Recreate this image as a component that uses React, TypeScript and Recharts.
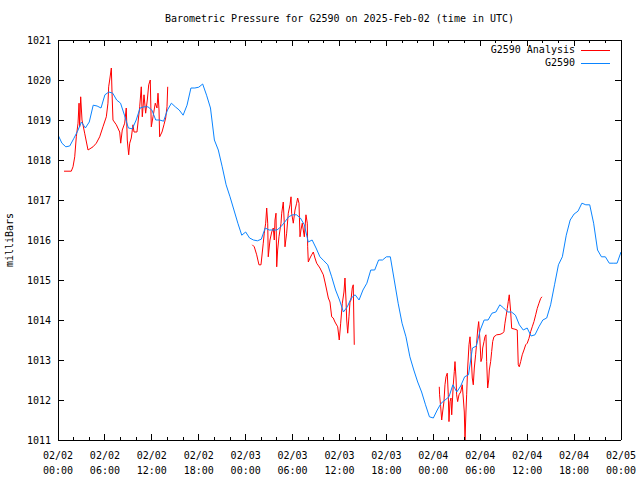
import React from 'react';
import { LineChart, Line, XAxis, YAxis } from 'recharts';

// G2590 station readings, one every half hour from 02/02 00:00 (UTC)
const stationStepHours = 0.5;
const stationValues = [
  1018.63, 1018.42, 1018.33, 1018.35, 1018.53, 1018.72, 1018.95, 1018.8, 1018.95, 1019.37, 1019.35, 1019.3,
  1019.63, 1019.7, 1019.67, 1019.5, 1019.42, 1019.12, 1018.8, 1018.78, 1019.0, 1019.3, 1019.33, 1019.33,
  1019.25, 1019.0, 1019.0, 1018.97, 1019.25, 1019.42, 1019.33, 1019.25, 1019.12, 1019.37, 1019.8, 1019.8,
  1019.82, 1019.9, 1019.62, 1019.3, 1018.5, 1018.25, 1017.83, 1017.38, 1017.08, 1016.75, 1016.42, 1016.12,
  1016.2, 1016.05, 1016.0, 1015.98, 1016.02, 1016.3, 1016.25, 1016.25, 1016.25, 1016.33, 1016.45, 1016.58,
  1016.63, 1016.63, 1016.55, 1016.38, 1015.95, 1016.0, 1015.8, 1015.58, 1015.48, 1015.38, 1015.08, 1014.75,
  1014.5, 1014.2, 1014.33, 1014.55, 1014.63, 1014.5, 1014.75, 1014.92, 1015.25, 1015.25, 1015.5, 1015.5,
  1015.58, 1015.58, 1015.0, 1014.42, 1013.92, 1013.58, 1013.08, 1012.75, 1012.45, 1012.2, 1011.88, 1011.58,
  1011.55, 1011.75, 1011.92, 1012.0, 1012.08, 1012.38, 1012.2, 1012.35, 1012.58, 1012.63, 1013.3, 1013.35,
  1013.75, 1014.0, 1014.0, 1014.17, 1014.2, 1014.38, 1014.3, 1014.2, 1014.2, 1014.12, 1013.88, 1013.75,
  1013.8, 1013.6, 1013.63, 1013.83, 1014.0, 1014.05, 1014.38, 1014.88, 1015.38, 1015.58, 1016.12, 1016.5,
  1016.65, 1016.72, 1016.92, 1016.88, 1016.88, 1016.42, 1015.75, 1015.58, 1015.58, 1015.42, 1015.42, 1015.42,
  1015.7,
];

// G2590 Analysis, [hours since 02/02 00:00, mBar], three runs with gaps between
const analysisRun1 = [
  [0.77, 1017.72], [1.7, 1017.72], [1.92, 1017.83], [2.14, 1018.08], [2.34, 1018.58], [2.56, 1018.92],
  [2.69, 1019.42], [2.77, 1018.83], [2.9, 1019.58], [3.07, 1019.0], [3.41, 1018.67], [3.84, 1018.25],
  [4.48, 1018.33], [4.9, 1018.42], [5.33, 1018.58], [5.75, 1018.83], [6.18, 1019.08], [6.39, 1019.42],
  [6.48, 1019.83], [6.61, 1020.0], [6.82, 1020.3], [6.91, 1019.67], [7.03, 1019.0], [7.46, 1018.88],
  [7.89, 1018.7], [8.02, 1018.42], [8.22, 1018.75], [8.53, 1018.92], [8.73, 1019.3], [8.86, 1018.5],
  [9.04, 1018.13], [9.17, 1018.42], [9.37, 1018.55], [9.59, 1018.88], [9.72, 1018.7], [10.1, 1018.7],
  [10.45, 1019.33], [10.65, 1019.83], [10.78, 1019.08], [11.0, 1019.63], [11.21, 1019.17], [11.42, 1019.5],
  [11.6, 1019.88], [11.8, 1020.0], [11.93, 1018.83], [12.15, 1019.08], [12.44, 1019.42], [12.66, 1019.3],
  [12.79, 1019.67], [12.92, 1019.25], [13.0, 1018.58], [13.3, 1018.7], [13.55, 1018.88], [13.77, 1019.05],
  [13.94, 1019.33], [14.03, 1019.83],
];
const analysisRun2 = [
  [24.85, 1015.88], [25.1, 1015.83], [25.41, 1015.63], [25.7, 1015.38], [25.96, 1015.38], [26.25, 1015.92],
  [26.38, 1016.17], [26.56, 1016.42], [26.69, 1016.8], [26.82, 1016.42], [26.89, 1015.58], [27.11, 1016.0],
  [27.33, 1016.2], [27.53, 1016.3], [27.66, 1016.0], [27.75, 1016.5], [27.88, 1016.67], [27.97, 1015.33],
  [28.09, 1015.75], [28.26, 1016.08], [28.52, 1016.42], [28.61, 1016.67], [28.81, 1016.95], [28.94, 1016.42],
  [29.03, 1015.83], [29.24, 1016.17], [29.45, 1016.67], [29.67, 1016.88], [29.8, 1017.08], [29.88, 1016.67],
  [30.09, 1016.42], [30.31, 1016.75], [30.52, 1016.92], [30.65, 1017.05], [30.82, 1016.92], [30.95, 1016.08],
  [31.07, 1016.25], [31.24, 1016.42], [31.5, 1016.08], [31.71, 1016.63], [31.88, 1016.42], [31.93, 1015.83],
  [32.01, 1015.45], [32.23, 1015.55], [32.44, 1015.63], [32.65, 1015.7], [32.86, 1015.55], [33.08, 1015.42],
  [33.5, 1015.3], [33.93, 1015.13], [34.14, 1014.95], [34.36, 1014.75], [34.57, 1014.55], [34.78, 1014.45],
  [35.0, 1014.08], [35.2, 1014.05], [35.42, 1013.95], [35.77, 1013.83], [35.97, 1013.5], [36.15, 1013.92],
  [36.36, 1014.42], [36.57, 1014.7], [36.7, 1015.05], [36.83, 1014.5], [36.92, 1014.0], [37.05, 1013.67],
  [37.21, 1014.08], [37.34, 1014.45], [37.47, 1014.5], [37.63, 1014.8], [37.76, 1014.88], [37.89, 1013.38],
];
const analysisRun3 = [
  [48.76, 1012.33], [48.8, 1012.13], [48.94, 1011.83], [49.07, 1011.5], [49.19, 1011.7], [49.36, 1011.96],
  [49.49, 1012.38], [49.62, 1012.58], [49.78, 1012.67], [49.91, 1012.13], [50.0, 1011.46], [50.13, 1011.96],
  [50.26, 1012.05], [50.35, 1011.63], [50.55, 1012.38], [50.68, 1012.71], [50.77, 1012.96], [50.9, 1012.55],
  [50.98, 1012.13], [51.11, 1011.96], [51.28, 1012.13], [51.5, 1012.2], [51.7, 1012.38], [51.83, 1012.05],
  [51.96, 1011.7], [52.05, 1011.0], [52.17, 1011.7], [52.26, 1012.13], [52.39, 1012.8], [52.56, 1013.38],
  [52.69, 1013.58], [52.81, 1013.21], [52.98, 1012.55], [53.11, 1012.38], [53.24, 1012.8], [53.41, 1013.13],
  [53.54, 1013.42], [53.67, 1013.75], [53.8, 1013.96], [53.96, 1013.5], [54.09, 1012.96], [54.22, 1013.05],
  [54.31, 1013.3], [54.48, 1013.46], [54.6, 1013.58], [54.73, 1013.63], [54.82, 1012.96], [54.95, 1012.3],
  [55.08, 1012.5], [55.16, 1012.75], [55.33, 1012.96], [55.46, 1013.21], [55.59, 1013.46], [55.75, 1013.58],
  [56.1, 1013.63], [56.52, 1013.64], [56.87, 1013.67], [57.03, 1013.71], [57.16, 1013.92], [57.29, 1014.08],
  [57.46, 1014.29], [57.58, 1014.46], [57.71, 1014.63], [57.89, 1014.21], [58.02, 1013.79], [58.44, 1013.77],
  [58.73, 1013.75], [58.86, 1012.88], [58.99, 1012.83], [59.17, 1012.96], [59.37, 1013.13], [59.59, 1013.25],
  [59.81, 1013.38], [60.01, 1013.42], [60.23, 1013.54], [60.45, 1013.71], [60.65, 1013.83], [60.87, 1013.96],
  [61.09, 1014.13], [61.29, 1014.29], [61.51, 1014.42], [61.73, 1014.54], [61.89, 1014.58],
];

const majorTicks = [0, 6, 12, 18, 24, 30, 36, 42, 48, 54, 60, 66, 72];
const minorTicks = [2, 4, 8, 10, 14, 16, 20, 22, 26, 28, 32, 34, 38, 40, 44, 46, 50, 52, 56, 58, 62, 64, 68, 70];
const dateLabels = ['02/02', '02/02', '02/02', '02/02', '02/03', '02/03', '02/03', '02/03', '02/04', '02/04', '02/04', '02/04', '02/05'];
const timeLabels = ['00:00', '06:00', '12:00', '18:00', '00:00', '06:00', '12:00', '18:00', '00:00', '06:00', '12:00', '18:00', '00:00'];
const pressureTicks = [1011, 1012, 1013, 1014, 1015, 1016, 1017, 1018, 1019, 1020, 1021];

const FONT = '"DejaVu Sans Mono", monospace';
const RED = '#ff0000';
const BLUE = '#0a84ff';

const stationData = stationValues.map((g, i) => ({ t: i * stationStepHours, g }));
const toRows = (run: number[][]) => run.map(([t, a]) => ({ t, a }));
const analysisData = [
  ...toRows(analysisRun1),
  { t: 19, a: null },
  ...toRows(analysisRun2),
  { t: 43, a: null },
  ...toRows(analysisRun3),
];
const allTicks = [...majorTicks, ...minorTicks].sort((a, b) => a - b);

const BottomTick = (props: any) => {
  const { x, y, payload } = props;
  const i = majorTicks.indexOf(payload.value);
  const major = i >= 0;
  return (
    <g>
      <line x1={x} x2={x} y1={y} y2={y - (major ? 6 : 3)} stroke="#000" shapeRendering="crispEdges" />
      {major && (
        <text x={x} y={y + 19} textAnchor="middle" fontFamily={FONT} fontSize={10} fill="#000">
          <tspan x={x}>{dateLabels[i]}</tspan>
          <tspan x={x} dy={15}>{timeLabels[i]}</tspan>
        </text>
      )}
    </g>
  );
};

const TopTick = (props: any) => {
  const { x, y, payload } = props;
  const major = majorTicks.includes(payload.value);
  return <line x1={x} x2={x} y1={y} y2={y + (major ? 6 : 3)} stroke="#000" shapeRendering="crispEdges" />;
};

const LeftTick = (props: any) => {
  const { x, y, payload } = props;
  return (
    <g>
      <line x1={x} x2={x + 6} y1={y} y2={y} stroke="#000" shapeRendering="crispEdges" />
      <text x={x - 7} y={y + 4} textAnchor="end" fontFamily={FONT} fontSize={10} fill="#000">
        {payload.value}
      </text>
    </g>
  );
};

const RightTick = (props: any) => {
  const { x, y } = props;
  return <line x1={x} x2={x - 6} y1={y} y2={y} stroke="#000" shapeRendering="crispEdges" />;
};

const App = () => {
  return (
    <div style={{ position: 'absolute', left: 0, top: 0, width: 640, height: 480, background: '#fff', fontFamily: FONT }}>
      <LineChart width={640} height={480} margin={{ top: 10, right: 9, bottom: 0, left: 8 }}>
        <XAxis
          xAxisId="b"
          type="number"
          dataKey="t"
          domain={[0, 72]}
          ticks={allTicks}
          allowDataOverflow
          height={40}
          tickSize={0}
          tickMargin={0}
          tickLine={false}
          axisLine={{ stroke: '#000', shapeRendering: 'crispEdges' }}
          tick={<BottomTick />}
          interval={0}
        />
        <XAxis
          xAxisId="t"
          orientation="top"
          type="number"
          dataKey="t"
          domain={[0, 72]}
          ticks={allTicks}
          allowDataOverflow
          height={30}
          tickSize={0}
          tickMargin={0}
          tickLine={false}
          axisLine={{ stroke: '#000', shapeRendering: 'crispEdges' }}
          tick={<TopTick />}
          interval={0}
        />
        <YAxis
          yAxisId="l"
          type="number"
          domain={[1011, 1021]}
          ticks={pressureTicks}
          allowDataOverflow
          width={50}
          tickSize={0}
          tickMargin={0}
          tickLine={false}
          axisLine={{ stroke: '#000', shapeRendering: 'crispEdges' }}
          tick={<LeftTick />}
          interval={0}
        />
        <YAxis
          yAxisId="r"
          orientation="right"
          type="number"
          domain={[1011, 1021]}
          ticks={pressureTicks}
          allowDataOverflow
          width={10}
          tickSize={0}
          tickMargin={0}
          tickLine={false}
          axisLine={{ stroke: '#000', shapeRendering: 'crispEdges' }}
          tick={<RightTick />}
          interval={0}
        />
        <Line
          xAxisId="b"
          yAxisId="l"
          data={analysisData}
          dataKey="a"
          type="linear"
          stroke={RED}
          strokeWidth={1}
          dot={false}
          activeDot={false}
          isAnimationActive={false}
        />
        <Line
          xAxisId="b"
          yAxisId="l"
          data={stationData}
          dataKey="g"
          type="linear"
          stroke={BLUE}
          strokeWidth={1}
          dot={false}
          activeDot={false}
          isAnimationActive={false}
        />
        {/* zero-width series so the mirrored top/right axes get drawn */}
        <Line
          xAxisId="t"
          yAxisId="r"
          data={stationData}
          dataKey="g"
          stroke="none"
          dot={false}
          activeDot={false}
          legendType="none"
          isAnimationActive={false}
        />
      </LineChart>

      {/* title */}
      <div style={{ position: 'absolute', left: 58, width: 563, top: 12, textAlign: 'center', fontSize: 10, lineHeight: '14px' }}>
        Barometric Pressure for G2590 on 2025-Feb-02 (time in UTC)
      </div>

      {/* y axis label */}
      <div
        style={{
          position: 'absolute',
          left: 10,
          top: 240,
          fontSize: 10,
          lineHeight: '12px',
          whiteSpace: 'nowrap',
          transform: 'translate(-50%, -50%) rotate(-90deg)',
        }}
      >
        milliBars
      </div>

      {/* legend */}
      <div style={{ position: 'absolute', right: 640 - 575, top: 43, textAlign: 'right', fontSize: 10, lineHeight: '13px' }}>
        <div>G2590 Analysis</div>
        <div>G2590</div>
      </div>
      <div style={{ position: 'absolute', left: 581, top: 50, width: 29, height: 1, background: RED }} />
      <div style={{ position: 'absolute', left: 581, top: 63, width: 29, height: 1, background: BLUE }} />
    </div>
  );
};

export default App;
